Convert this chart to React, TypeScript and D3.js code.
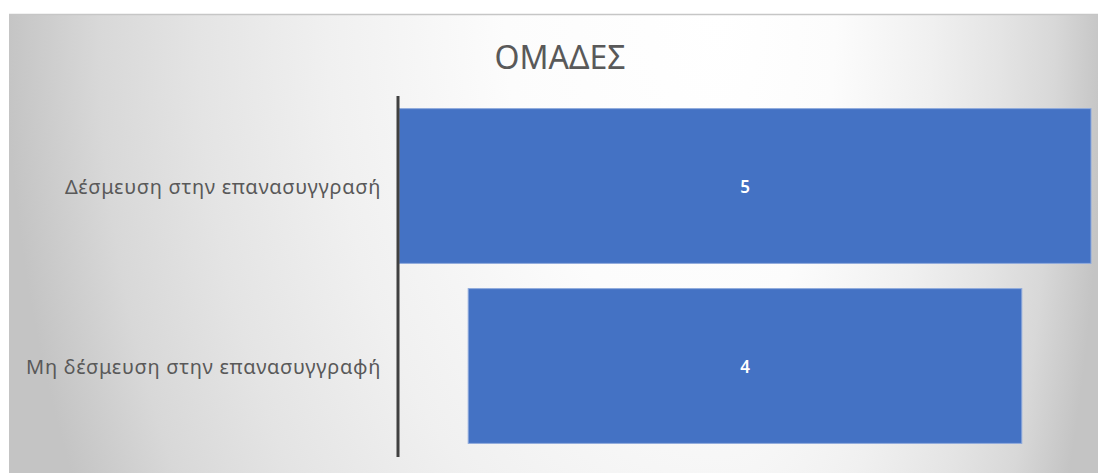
import React from "react";
import * as d3 from "d3";

// Funnel data: one centred bar per group
const categories = ["Δέσμευση στην επανασυγγρασή", "Μη δέσμευση στην επανασυγγραφή"];
const values = [5, 4];
const chartTitle = "ΟΜΑΔΕΣ";

const W = 1098;
const H = 473;
const FONT = "'Noto Sans', 'Open Sans', sans-serif";

export default function App() {
  const areaX = 9;
  const areaY = 14;
  const axisX = 398;
  const centerX = 745;

  const y = d3
    .scaleBand<string>()
    .domain(categories)
    .range([96, 456])
    .paddingInner(0.14)
    .paddingOuter(0.07);

  const maxV = d3.max(values) ?? 1;
  const width = d3.scaleLinear().domain([0, maxV]).range([0, 692]);

  const gradStops = [
    { o: 0, c: "#ffffff" },
    { o: 0.3, c: "#fcfcfc" },
    { o: 0.55, c: "#f0f0f0" },
    { o: 0.73, c: "#e4e4e4" },
    { o: 0.87, c: "#d8d8d8" },
    { o: 1, c: "#c4c4c4" },
  ];

  return (
    <svg
      width={W}
      height={H}
      style={{ position: "absolute", left: 0, top: 0, display: "block" }}
    >
      <defs>
        <radialGradient
          id="bgLeft"
          gradientUnits="userSpaceOnUse"
          cx={0}
          cy={0}
          r={1}
          gradientTransform="translate(720,10) scale(715,1100)"
        >
          {gradStops.map((s) => (
            <stop key={s.o} offset={s.o} stopColor={s.c} />
          ))}
        </radialGradient>
        <radialGradient
          id="bgRight"
          gradientUnits="userSpaceOnUse"
          cx={0}
          cy={0}
          r={1}
          gradientTransform="translate(720,10) scale(385,1100)"
        >
          {gradStops.map((s) => (
            <stop key={s.o} offset={s.o} stopColor={s.c} />
          ))}
        </radialGradient>
      </defs>

      <rect x={0} y={0} width={W} height={H} fill="#ffffff" />
      {/* chart area background */}
      <rect x={areaX} y={areaY} width={720 - areaX} height={H - areaY} fill="url(#bgLeft)" />
      <rect x={720} y={areaY} width={W - 720} height={H - areaY} fill="url(#bgRight)" />
      <line x1={areaX} x2={W} y1={areaY + 0.5} y2={areaY + 0.5} stroke="#c6c6c6" strokeWidth={1.5} />

      {/* title */}
      <text
        x={560}
        y={69}
        textAnchor="middle"
        fontFamily={FONT}
        fontSize={32}
        fill="#595959"
      >
        {chartTitle}
      </text>

      {/* funnel bars */}
      {categories.map((c, i) => {
        const w = width(values[i]);
        const y0 = y(c) ?? 0;
        return (
          <g key={c}>
            <rect
              x={centerX - w / 2}
              y={y0}
              width={w}
              height={y.bandwidth()}
              fill="#4472c4"
              stroke="#8faadc"
              strokeWidth={1}
            />
            <text
              x={centerX}
              y={y0 + y.bandwidth() / 2 + 1}
              dy="0.35em"
              textAnchor="middle"
              fontFamily={FONT}
              fontSize={17}
              fontWeight={600}
              fill="#ffffff"
            >
              {values[i]}
            </text>
            <text
              x={381}
              y={y0 + y.bandwidth() / 2 + 1}
              dy="0.35em"
              textAnchor="end"
              fontFamily={FONT}
              fontSize={20}
              letterSpacing={0.7}
              fill="#595959"
            >
              {c}
            </text>
          </g>
        );
      })}

      {/* category axis line */}
      <line x1={axisX} x2={axisX} y1={96} y2={457} stroke="#404040" strokeWidth={3} />
    </svg>
  );
}
